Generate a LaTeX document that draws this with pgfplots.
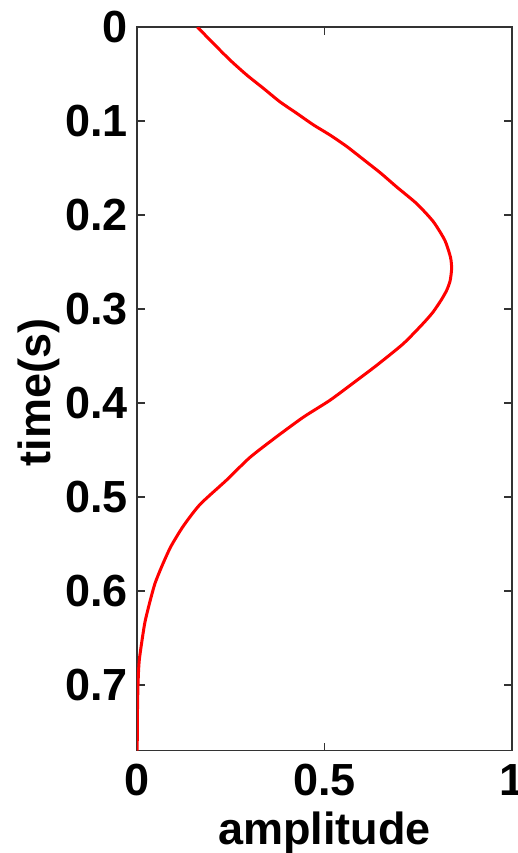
\documentclass[border=0pt]{standalone}
\usepackage{pgfplots}
\pgfplotsset{compat=1.18}
\usepackage{fontspec}
\setmainfont{Liberation Sans}
\begin{document}
\begin{tikzpicture}
\useasboundingbox (-68.5pt,-51.15pt) rectangle (190.5pt,375.35pt);
\begin{axis}[
  at={(0,0)}, anchor=south west,
  scale only axis,
  width=187.5pt, height=361.85pt,
  xmin=0, xmax=1, ymin=0, ymax=0.77,
  y dir=reverse,
  xtick={0,0.5,1},
  ytick={0,0.1,0.2,0.3,0.4,0.5,0.6,0.7},
  tick align=inside,
  major tick length=4pt,
  axis line style={black!80, line width=0.75pt},
  tick style={black!80, line width=0.75pt},
  font=\fontsize{22.5}{27}\selectfont\bfseries,
  /pgf/number format/assume math mode=true,
  /pgf/number format/fixed,
  xticklabel style={inner sep=0pt, yshift=-6.5pt},
  yticklabel style={inner sep=0pt, xshift=-4.5pt},
  xlabel={amplitude},
  ylabel={time(s)},
  xlabel style={at={(axis description cs:0.5,-0.0843)}, anchor=north, inner sep=0pt},
  ylabel style={at={(axis description cs:-0.2053,0.495)}, anchor=south, inner sep=0pt, rotate=0},
]
\addplot[red, line width=1.5pt, smooth, tension=0.4] coordinates {
(0.161,0.000)
(0.2035,0.0174)
(0.248,0.0351)
(0.2925,0.051)
(0.337,0.0652)
(0.381,0.0795)
(0.426,0.0918)
(0.470,0.104)
(0.515,0.115)
(0.559,0.127)
(0.604,0.141)
(0.650,0.1555)
(0.692,0.170)
(0.746,0.188)
(0.790,0.207)
(0.821,0.227)
(0.836,0.245)
(0.839,0.257)
(0.835,0.270)
(0.826,0.280)
(0.812,0.290)
(0.790,0.303)
(0.764,0.315)
(0.710,0.337)
(0.639,0.360)
(0.586,0.376)
(0.515,0.397)
(0.444,0.415)
(0.372,0.436)
(0.301,0.458)
(0.239,0.482)
(0.168,0.508)
(0.1235,0.531)
(0.090,0.553)
(0.066,0.574)
(0.048,0.592)
(0.0347,0.611)
(0.0213,0.633)
(0.0125,0.655)
(0.006,0.674)
(0.0035,0.691)
(0.0015,0.720)
(0.0005,0.770)
};
\end{axis}
\end{tikzpicture}
\end{document}
